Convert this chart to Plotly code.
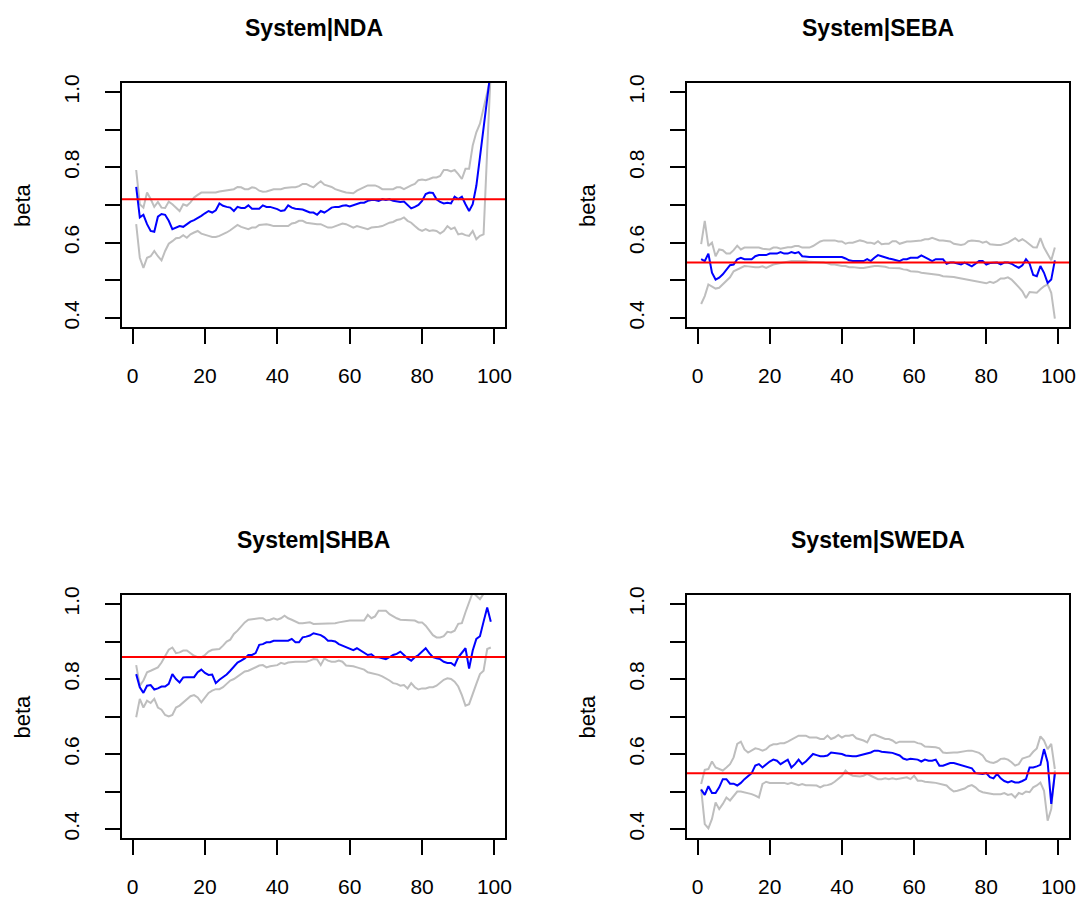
import plotly.graph_objects as go

x = list(range(1, 100))

titles = ["System|NDA", "System|SEBA", "System|SHBA", "System|SWEDA"]
ref_values = [0.715, 0.547, 0.859, 0.549]

nda_beta = [0.748,0.667,0.674,0.649,0.631,0.629,0.669,0.676,0.674,0.658,
            0.636,0.640,0.644,0.642,0.649,0.656,0.660,0.665,0.671,0.678,
            0.684,0.680,0.686,0.704,0.698,0.695,0.693,0.684,0.695,0.692,
            0.692,0.699,0.690,0.690,0.690,0.699,0.695,0.695,0.693,0.689,
            0.684,0.686,0.699,0.693,0.690,0.690,0.688,0.684,0.680,0.680,
            0.674,0.684,0.680,0.686,0.693,0.695,0.695,0.698,0.699,0.696,
            0.699,0.702,0.706,0.706,0.711,0.713,0.713,0.711,0.715,0.713,
            0.715,0.711,0.709,0.708,0.709,0.700,0.691,0.695,0.700,0.711,
            0.729,0.733,0.732,0.715,0.708,0.704,0.706,0.704,0.722,0.716,
            0.722,0.702,0.684,0.702,0.751,0.827,0.911,0.987,1.060]
nda_upper = [0.793,0.702,0.693,0.733,0.716,0.695,0.708,0.693,0.692,0.709,
             0.702,0.693,0.684,0.702,0.698,0.707,0.720,0.727,0.733,0.733,
             0.733,0.733,0.733,0.736,0.738,0.740,0.740,0.742,0.748,0.747,
             0.742,0.742,0.747,0.745,0.738,0.735,0.736,0.740,0.742,0.742,
             0.742,0.745,0.747,0.747,0.747,0.750,0.756,0.756,0.751,0.747,
             0.756,0.763,0.754,0.751,0.748,0.742,0.740,0.736,0.733,0.732,
             0.731,0.738,0.742,0.748,0.752,0.752,0.752,0.748,0.742,0.742,
             0.742,0.742,0.747,0.747,0.742,0.748,0.752,0.756,0.766,0.768,
             0.766,0.769,0.773,0.773,0.777,0.793,0.793,0.789,0.793,0.782,
             0.769,0.796,0.796,0.858,0.893,0.916,0.956,1.004,1.040]
nda_lower = [0.649,0.560,0.533,0.560,0.564,0.578,0.564,0.553,0.578,0.597,
             0.604,0.612,0.613,0.620,0.613,0.622,0.627,0.631,0.624,0.622,
             0.618,0.615,0.615,0.618,0.622,0.627,0.633,0.640,0.647,0.642,
             0.640,0.636,0.640,0.640,0.647,0.649,0.649,0.647,0.644,0.644,
             0.644,0.644,0.644,0.651,0.653,0.658,0.658,0.653,0.651,0.651,
             0.649,0.649,0.644,0.640,0.640,0.644,0.649,0.651,0.649,0.644,
             0.640,0.644,0.642,0.638,0.636,0.640,0.640,0.642,0.644,0.649,
             0.653,0.655,0.660,0.662,0.667,0.658,0.653,0.644,0.636,0.631,
             0.636,0.631,0.633,0.631,0.624,0.631,0.644,0.636,0.640,0.622,
             0.624,0.620,0.618,0.631,0.609,0.618,0.622,0.845,1.060]

seba_beta = [0.556,0.551,0.571,0.520,0.502,0.507,0.516,0.529,0.540,0.542,
             0.556,0.560,0.556,0.556,0.556,0.564,0.567,0.567,0.567,0.571,
             0.571,0.571,0.575,0.571,0.571,0.575,0.572,0.575,0.564,0.562,
             0.562,0.562,0.562,0.562,0.562,0.562,0.562,0.562,0.562,0.562,
             0.558,0.553,0.551,0.551,0.551,0.551,0.556,0.551,0.560,0.567,
             0.564,0.560,0.558,0.556,0.553,0.551,0.556,0.556,0.560,0.560,
             0.560,0.566,0.560,0.556,0.551,0.556,0.556,0.556,0.544,0.547,
             0.547,0.544,0.542,0.547,0.542,0.537,0.544,0.551,0.551,0.542,
             0.546,0.547,0.547,0.542,0.547,0.547,0.544,0.538,0.533,0.540,
             0.556,0.544,0.514,0.511,0.538,0.520,0.493,0.502,0.553]
seba_upper = [0.596,0.658,0.591,0.600,0.564,0.582,0.580,0.571,0.571,0.580,
              0.592,0.582,0.587,0.587,0.587,0.587,0.587,0.584,0.582,0.582,
              0.587,0.587,0.584,0.587,0.588,0.588,0.591,0.591,0.587,0.587,
              0.587,0.591,0.597,0.603,0.606,0.606,0.606,0.606,0.603,0.603,
              0.597,0.600,0.600,0.604,0.606,0.604,0.600,0.600,0.597,0.604,
              0.596,0.597,0.597,0.604,0.604,0.597,0.600,0.603,0.603,0.604,
              0.606,0.606,0.609,0.609,0.613,0.609,0.606,0.606,0.604,0.603,
              0.597,0.596,0.594,0.596,0.604,0.606,0.606,0.604,0.600,0.603,
              0.596,0.594,0.594,0.594,0.596,0.600,0.606,0.612,0.604,0.609,
              0.603,0.596,0.588,0.587,0.612,0.587,0.571,0.553,0.587]
seba_lower = [0.437,0.458,0.489,0.484,0.478,0.480,0.489,0.500,0.508,0.524,
              0.529,0.533,0.538,0.537,0.535,0.535,0.535,0.537,0.533,0.538,
              0.542,0.544,0.546,0.549,0.551,0.551,0.551,0.551,0.551,0.551,
              0.549,0.549,0.547,0.547,0.547,0.545,0.542,0.542,0.540,0.538,
              0.538,0.535,0.535,0.533,0.533,0.533,0.535,0.537,0.538,0.538,
              0.538,0.536,0.533,0.533,0.533,0.532,0.529,0.528,0.524,0.524,
              0.523,0.520,0.519,0.517,0.516,0.516,0.514,0.511,0.511,0.510,
              0.509,0.507,0.505,0.505,0.502,0.500,0.498,0.496,0.493,0.492,
              0.496,0.493,0.498,0.505,0.505,0.508,0.502,0.493,0.482,0.471,
              0.453,0.469,0.469,0.467,0.476,0.484,0.489,0.467,0.398]

shba_beta = [0.813,0.778,0.763,0.782,0.784,0.772,0.775,0.780,0.780,0.787,
             0.813,0.800,0.791,0.804,0.805,0.805,0.805,0.818,0.825,0.816,
             0.811,0.812,0.789,0.798,0.804,0.812,0.822,0.834,0.844,0.849,
             0.855,0.864,0.864,0.869,0.891,0.893,0.898,0.898,0.902,0.902,
             0.902,0.902,0.902,0.907,0.898,0.898,0.911,0.913,0.916,0.922,
             0.920,0.917,0.911,0.902,0.902,0.900,0.893,0.889,0.884,0.880,
             0.877,0.882,0.876,0.869,0.864,0.866,0.858,0.858,0.855,0.853,
             0.858,0.864,0.867,0.873,0.864,0.855,0.849,0.858,0.864,0.873,
             0.882,0.869,0.858,0.855,0.853,0.846,0.843,0.843,0.836,0.858,
             0.871,0.882,0.828,0.876,0.907,0.914,0.953,0.991,0.953]
shba_upper = [0.837,0.782,0.796,0.818,0.822,0.827,0.831,0.844,0.862,0.878,
              0.884,0.869,0.871,0.876,0.876,0.869,0.862,0.858,0.858,0.864,
              0.873,0.878,0.880,0.880,0.889,0.900,0.905,0.920,0.929,0.940,
              0.951,0.958,0.960,0.962,0.962,0.962,0.956,0.958,0.962,0.958,
              0.962,0.969,0.962,0.958,0.953,0.949,0.949,0.951,0.951,0.947,
              0.947,0.947,0.947,0.947,0.947,0.949,0.951,0.953,0.956,0.956,
              0.956,0.956,0.956,0.956,0.971,0.962,0.967,0.982,0.982,0.982,
              0.973,0.967,0.962,0.958,0.958,0.956,0.958,0.956,0.951,0.951,
              0.942,0.929,0.917,0.911,0.911,0.914,0.926,0.924,0.929,0.947,
              0.949,0.978,1.004,1.031,1.022,1.013,1.027,1.031,1.027]
shba_lower = [0.698,0.747,0.724,0.742,0.736,0.747,0.724,0.718,0.704,0.700,
              0.704,0.724,0.729,0.738,0.747,0.754,0.757,0.751,0.738,0.751,
              0.763,0.769,0.773,0.773,0.778,0.787,0.796,0.800,0.807,0.813,
              0.820,0.822,0.827,0.831,0.836,0.837,0.831,0.834,0.836,0.837,
              0.843,0.840,0.844,0.846,0.846,0.846,0.846,0.846,0.849,0.853,
              0.852,0.837,0.855,0.849,0.846,0.846,0.849,0.846,0.836,0.836,
              0.834,0.831,0.828,0.825,0.818,0.816,0.813,0.811,0.807,0.802,
              0.796,0.789,0.787,0.782,0.784,0.775,0.789,0.778,0.772,0.775,
              0.775,0.778,0.778,0.782,0.789,0.798,0.802,0.800,0.793,0.780,
              0.757,0.729,0.733,0.763,0.787,0.813,0.822,0.880,0.884]

sweda_beta = [0.505,0.491,0.514,0.496,0.496,0.511,0.533,0.533,0.521,0.521,
              0.516,0.523,0.533,0.540,0.549,0.569,0.573,0.564,0.573,0.580,
              0.585,0.582,0.573,0.578,0.585,0.564,0.573,0.585,0.573,0.580,
              0.591,0.600,0.597,0.594,0.594,0.596,0.604,0.603,0.600,0.600,
              0.596,0.594,0.594,0.594,0.596,0.600,0.600,0.604,0.609,0.609,
              0.606,0.604,0.604,0.603,0.600,0.596,0.588,0.585,0.587,0.585,
              0.585,0.580,0.585,0.582,0.582,0.585,0.569,0.569,0.573,0.576,
              0.576,0.573,0.569,0.567,0.564,0.562,0.549,0.547,0.547,0.549,
              0.538,0.535,0.547,0.535,0.528,0.524,0.528,0.524,0.524,0.528,
              0.533,0.564,0.564,0.567,0.571,0.613,0.578,0.467,0.547]
sweda_upper = [0.520,0.558,0.560,0.580,0.564,0.560,0.556,0.564,0.573,0.591,
               0.627,0.633,0.612,0.604,0.609,0.615,0.613,0.609,0.613,0.622,
               0.626,0.626,0.629,0.629,0.633,0.638,0.644,0.649,0.649,0.649,
               0.644,0.644,0.644,0.640,0.640,0.649,0.640,0.644,0.651,0.644,
               0.649,0.649,0.651,0.642,0.640,0.636,0.631,0.649,0.652,0.649,
               0.644,0.640,0.640,0.636,0.629,0.633,0.633,0.633,0.633,0.633,
               0.629,0.627,0.620,0.620,0.618,0.618,0.615,0.604,0.603,0.604,
               0.604,0.604,0.606,0.606,0.609,0.609,0.606,0.603,0.596,0.582,
               0.578,0.576,0.580,0.587,0.588,0.585,0.578,0.569,0.573,0.588,
               0.591,0.594,0.606,0.615,0.647,0.636,0.613,0.627,0.560]
sweda_lower = [0.507,0.413,0.402,0.427,0.471,0.453,0.467,0.484,0.476,0.489,
               0.500,0.500,0.498,0.496,0.493,0.489,0.484,0.520,0.526,0.523,
               0.523,0.524,0.524,0.523,0.520,0.523,0.520,0.517,0.520,0.517,
               0.517,0.516,0.516,0.511,0.516,0.517,0.520,0.526,0.533,0.542,
               0.556,0.547,0.542,0.540,0.540,0.542,0.547,0.542,0.538,0.533,
               0.533,0.535,0.533,0.535,0.533,0.535,0.538,0.538,0.533,0.542,
               0.529,0.529,0.526,0.524,0.524,0.523,0.520,0.517,0.516,0.507,
               0.500,0.502,0.505,0.508,0.514,0.517,0.511,0.502,0.498,0.496,
               0.496,0.493,0.493,0.493,0.496,0.491,0.493,0.484,0.496,0.493,
               0.500,0.498,0.511,0.516,0.524,0.502,0.422,0.453,0.556]

panels = [
    (nda_beta, nda_upper, nda_lower),
    (seba_beta, seba_upper, seba_lower),
    (shba_beta, shba_upper, shba_lower),
    (sweda_beta, sweda_upper, sweda_lower),
]

y_tickvals = [0.4, 0.5, 0.6, 0.7, 0.8, 0.9, 1.0]
y_ticktext = ["0.4", "", "0.6", "", "0.8", "", "1.0"]
x_tickvals = [0, 20, 40, 60, 80, 100]
x_ticktext = ["0", "20", "40", "60", "80", "100"]

W, H = 1079, 897
FONT = "Liberation Sans, Arial, Helvetica, sans-serif"

# pixel boxes of the four plot regions: (left, right, top, bottom)
boxes = [(122, 505, 83, 327), (687, 1069, 83, 327),
         (122, 505, 595, 838), (687, 1069, 595, 838)]

fig = go.Figure()
annotations = []
shapes = []

for i, ((beta, up, lo), (l, r, t, b)) in enumerate(zip(panels, boxes)):
    n = i + 1
    xa = "x" if n == 1 else f"x{n}"
    ya = "y" if n == 1 else f"y{n}"
    for series in (up, lo):
        fig.add_trace(go.Scatter(x=x, y=series, mode="lines",
                                 line=dict(color="#BEBEBE", width=2),
                                 xaxis=xa, yaxis=ya, showlegend=False,
                                 hoverinfo="skip"))
    fig.add_trace(go.Scatter(x=x, y=beta, mode="lines",
                             line=dict(color="#0000FF", width=2),
                             xaxis=xa, yaxis=ya, showlegend=False))
    shapes.append(dict(type="line", xref=f"{xa} domain", yref=ya,
                       x0=0, x1=1, y0=ref_values[i], y1=ref_values[i],
                       line=dict(color="#FF0000", width=2), layer="above"))
    axis_common = dict(showline=True, mirror=True, linecolor="black",
                       linewidth=1.6, ticks="outside", ticklen=15,
                       tickwidth=1.6, tickcolor="black", showgrid=False,
                       zeroline=False, automargin=False,
                       tickfont=dict(family=FONT, size=21, color="black"))
    fig.update_layout(**{
        ("xaxis" if n == 1 else f"xaxis{n}"): dict(
            domain=[l / W, r / W], range=[-2.92, 102.92], anchor=ya,
            tickvals=x_tickvals, ticktext=x_ticktext,
            ticklabelstandoff=14, **axis_common),
        ("yaxis" if n == 1 else f"yaxis{n}"): dict(
            domain=[1 - b / H, 1 - t / H], range=[0.376, 1.024], anchor=xa,
            tickvals=y_tickvals, ticktext=y_ticktext, tickangle=-90,
            ticklabelstandoff=18, **axis_common),
    })
    annotations.append(dict(text=f"<b>{titles[i]}</b>", xref="paper",
                            yref="paper", x=((l + r) / 2) / W,
                            y=1 - (t - 55) / H, xanchor="center",
                            yanchor="middle", showarrow=False,
                            font=dict(family=FONT, size=23, color="black")))
    annotations.append(dict(text="beta", xref="paper", yref="paper",
                            x=(l - 100) / W, y=1 - ((t + b) / 2) / H,
                            xanchor="center", yanchor="middle", textangle=-90,
                            showarrow=False,
                            font=dict(family=FONT, size=22, color="black")))

fig.update_layout(width=W, height=H, margin=dict(l=0, r=0, t=0, b=0, pad=0),
                  paper_bgcolor="white", plot_bgcolor="white",
                  annotations=annotations, shapes=shapes, showlegend=False)

fig.write_html("out.html")
